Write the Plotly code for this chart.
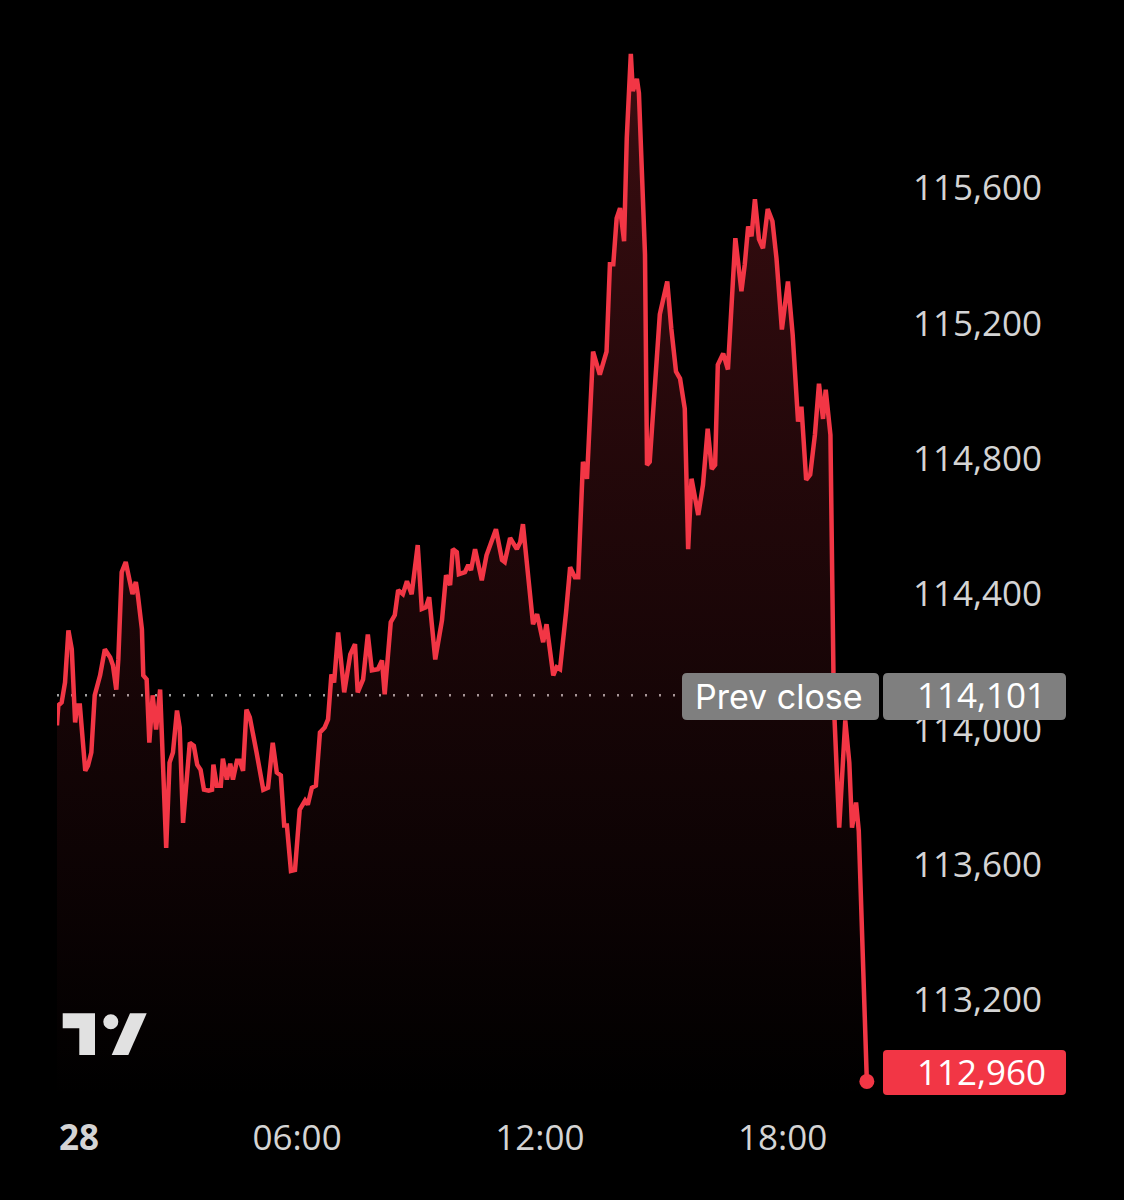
import pandas as pd
import plotly.graph_objects as go

# ---------------- data ----------------
DAY = "2025-08-28"
day_label = "28"

# minutes after midnight
minutes = [
    4, 6, 11, 16, 21, 26, 31, 34, 38, 46,
    50, 55, 60, 68, 75, 83, 87, 92, 95, 100,
    106, 112, 116, 121, 124, 130, 132, 137, 141, 146,
    151, 157, 166, 171, 176, 182, 186, 191, 201, 207,
    212, 217, 222, 229, 234, 236, 241, 247, 250, 256,
    261, 265, 271, 275, 280, 285, 290, 300, 310, 317,
    324, 330, 336, 341, 345, 351, 357, 364, 372, 376,
    382, 388, 394, 401, 406, 411, 415, 421, 430, 439,
    446, 450, 458, 465, 471, 480, 486, 490, 499, 505,
    510, 517, 523, 530, 539, 545, 551, 556, 565, 575,
    581, 587, 591, 597, 600, 609, 614, 618, 624, 634,
    641, 655, 664, 668, 676, 686, 691, 695, 702, 710,
    716, 725, 730, 740, 745, 750, 759, 765, 772, 777,
    784, 790, 799, 809, 819, 824, 829, 834, 839, 845,
    849, 855, 858, 864, 867, 876, 879, 883, 898, 909,
    915, 922, 928, 935, 940, 945, 955, 962, 969, 975,
    980, 984, 992, 999, 1010, 1019, 1024, 1029, 1034, 1039,
    1045, 1051, 1058, 1065, 1071, 1079, 1088, 1095, 1103, 1108,
    1115, 1121, 1128, 1134, 1140, 1144, 1151, 1156, 1164, 1173,
    1179, 1183, 1189, 1193, 1205,
]

prices = [
    114012, 114071, 114080, 114139, 114293, 114237, 114021, 114071, 114071, 113878,
    113893, 113932, 114101, 114160, 114237, 114213, 114190, 114118, 114207, 114465,
    114495, 114436, 114400, 114436, 114397, 114296, 114160, 114148, 113961, 114101,
    114000, 114118, 113650, 113902, 113932, 114056, 114006, 113724, 113961, 113952,
    113896, 113881, 113822, 113819, 113822, 113896, 113834, 113834, 113914, 113852,
    113899, 113852, 113908, 113908, 113878, 114059, 114036, 113932, 113822, 113828,
    113961, 113873, 113864, 113716, 113716, 113582, 113585, 113763, 113790, 113778,
    113828, 113834, 113991, 114006, 114030, 114163, 114139, 114287, 114110, 114222,
    114252, 114110, 114148, 114281, 114175, 114178, 114204, 114104, 114317, 114338,
    114412, 114400, 114438, 114400, 114545, 114356, 114361, 114391, 114207, 114323,
    114456, 114427, 114533, 114524, 114459, 114465, 114486, 114471, 114533, 114441,
    114515, 114592, 114501, 114495, 114566, 114533, 114554, 114607, 114465, 114311,
    114341, 114258, 114311, 114160, 114184, 114178, 114347, 114480, 114450, 114450,
    114791, 114741, 115117, 115049, 115117, 115375, 115375, 115511, 115541, 115443,
    115748, 115997, 115887, 115923, 115881, 115404, 114782, 114791, 115227, 115324,
    115185, 115058, 115037, 114948, 114533, 114741, 114634, 114723, 114889, 114770,
    114782, 115078, 115111, 115064, 115452, 115295, 115375, 115487, 115458, 115567,
    115449, 115422, 115538, 115502, 115392, 115182, 115324, 115167, 114910, 114954,
    114738, 114753, 114871, 115022, 114918, 115004, 114871, 114080, 113710, 114027,
    113902, 113710, 113784, 113701, 112960,
]

prev_close = 114101
last_price = prices[-1]

y_ticks = [113200, 113600, 114000, 114400, 114800, 115200, 115600]
x_tick_times = ["06:00", "12:00", "18:00"]
prev_close_label = "Prev close"

# ---------------- layout constants ----------------
W, H = 1124, 1200
L, R, T, B = 57, 244, 0, 100
PW = W - L - R
PH = H - T - B

RED = "#F23645"
TXT = "#d4d4d4"
FONT = "Inter, Roboto, 'Noto Sans', sans-serif"
NUMFONT = "'Open Sans', Roboto, sans-serif"

day0 = pd.Timestamp(DAY)
times = day0 + pd.to_timedelta(minutes, unit="m")


def px(x):
    return (x - L) / PW


def py(y):
    return 1 - (y - T) / PH


def rrect(x0, y0, x1, y1, r):
    a, b = px(x0), px(x1)
    c, d = py(y0), py(y1)
    rx, ry = r / PW, r / PH
    return (f"M {a+rx},{c} L {b-rx},{c} Q {b},{c} {b},{c-ry} "
            f"L {b},{d+ry} Q {b},{d} {b-rx},{d} L {a+rx},{d} "
            f"Q {a},{d} {a},{d+ry} L {a},{c-ry} Q {a},{c} {a+rx},{c} Z")


def poly(pts):
    return "M " + " L ".join(f"{px(x)},{py(y)}" for x, y in pts) + " Z"


fig = go.Figure()

fig.add_trace(go.Scatter(
    x=times, y=prices, mode="lines",
    line=dict(color=RED, width=4.5),
    fill="tozeroy",
    fillgradient=dict(
        type="vertical",
        colorscale=[[0, "rgba(242,54,69,0)"], [1, "rgba(242,54,69,0.24)"]],
        start=112905, stop=116000,
    ),
    hoverinfo="skip", showlegend=False,
))

fig.add_trace(go.Scatter(
    x=[times[-1]], y=[last_price], mode="markers",
    marker=dict(size=15, color=RED),
    hoverinfo="skip", showlegend=False,
))

shapes = [
    dict(type="line", xref="paper", yref="y", x0=0, x1=1,
         y0=prev_close, y1=prev_close,
         line=dict(color="#a0a0a0", width=2.5, dash="2px,12px"), layer="below"),
    dict(type="path", xref="paper", yref="paper", path=rrect(682, 673, 879, 720, 5),
         fillcolor="#7f7f7f", line=dict(width=0), layer="above"),
    dict(type="path", xref="paper", yref="paper", path=rrect(883, 673, 1066, 720, 5),
         fillcolor="#7f7f7f", line=dict(width=0), layer="above"),
    dict(type="path", xref="paper", yref="paper", path=rrect(883, 1050, 1066, 1095, 4),
         fillcolor=RED, line=dict(width=0), layer="above"),
    # logo
    dict(type="path", xref="paper", yref="paper",
         path=poly([(62.7, 1013.3), (95, 1013.3), (95, 1055), (79.3, 1055), (79.3, 1028.3), (62.7, 1028.3)]),
         fillcolor="#e1e1e1", line=dict(width=0), layer="above"),
    dict(type="circle", xref="paper", yref="paper",
         x0=px(103.3), x1=px(118.3), y0=py(1029.2), y1=py(1014.2),
         fillcolor="#e1e1e1", line=dict(width=0), layer="above"),
    dict(type="path", xref="paper", yref="paper",
         path=poly([(111.7, 1055), (128.3, 1055), (146.7, 1013.3), (130, 1013.3)]),
         fillcolor="#e1e1e1", line=dict(width=0), layer="above"),
]

annotations = [
    dict(text=prev_close_label, xref="paper", yref="paper", x=px(779), y=py(696),
         xanchor="center", yanchor="middle", showarrow=False,
         font=dict(family=FONT, size=34, color="#ffffff")),
    dict(text=f"{prev_close:,}", xref="paper", yref="paper", x=px(1048), y=py(694),
         xanchor="right", yanchor="middle", showarrow=False,
         font=dict(family=NUMFONT, size=35, color="#ffffff")),
    dict(text=f"{last_price:,}", xref="paper", yref="paper", x=px(1048), y=py(1071),
         xanchor="right", yanchor="middle", showarrow=False,
         font=dict(family=NUMFONT, size=35, color="#ffffff")),
    dict(text=f"<b>{day_label}</b>", xref="paper", yref="paper", x=px(57), y=py(1136),
         xanchor="left", yanchor="middle", showarrow=False,
         font=dict(family=NUMFONT, size=35, color=TXT)),
]

fig.update_layout(
    width=W, height=H,
    margin=dict(l=L, r=R, t=T, b=B, pad=0),
    paper_bgcolor="#000000", plot_bgcolor="#000000",
    showlegend=False,
    shapes=shapes, annotations=annotations,
    xaxis=dict(
        type="date",
        range=[day0 + pd.Timedelta(minutes=4.08), day0 + pd.Timedelta(minutes=1224.5)],
        tickvals=[pd.Timestamp(f"{DAY} {s}") for s in x_tick_times],
        ticktext=x_tick_times,
        showgrid=False, zeroline=False, showline=False,
        ticks="outside", ticklen=7, tickcolor="rgba(0,0,0,0)",
        tickfont=dict(family=NUMFONT, size=35, color=TXT),
        fixedrange=True,
    ),
    yaxis=dict(
        range=[112905, 116156],
        side="right",
        tickvals=y_ticks,
        ticktext=[f"{v:,}" for v in y_ticks],
        showgrid=False, zeroline=False, showline=False,
        ticks="outside", ticklen=25, tickcolor="rgba(0,0,0,0)",
        tickfont=dict(family=NUMFONT, size=35, color=TXT),
        fixedrange=True,
    ),
)

fig.write_html(
    "out.html",
    config={"displayModeBar": False},
    post_script="document.body.style.margin='0';document.body.style.background='#000';",
)
